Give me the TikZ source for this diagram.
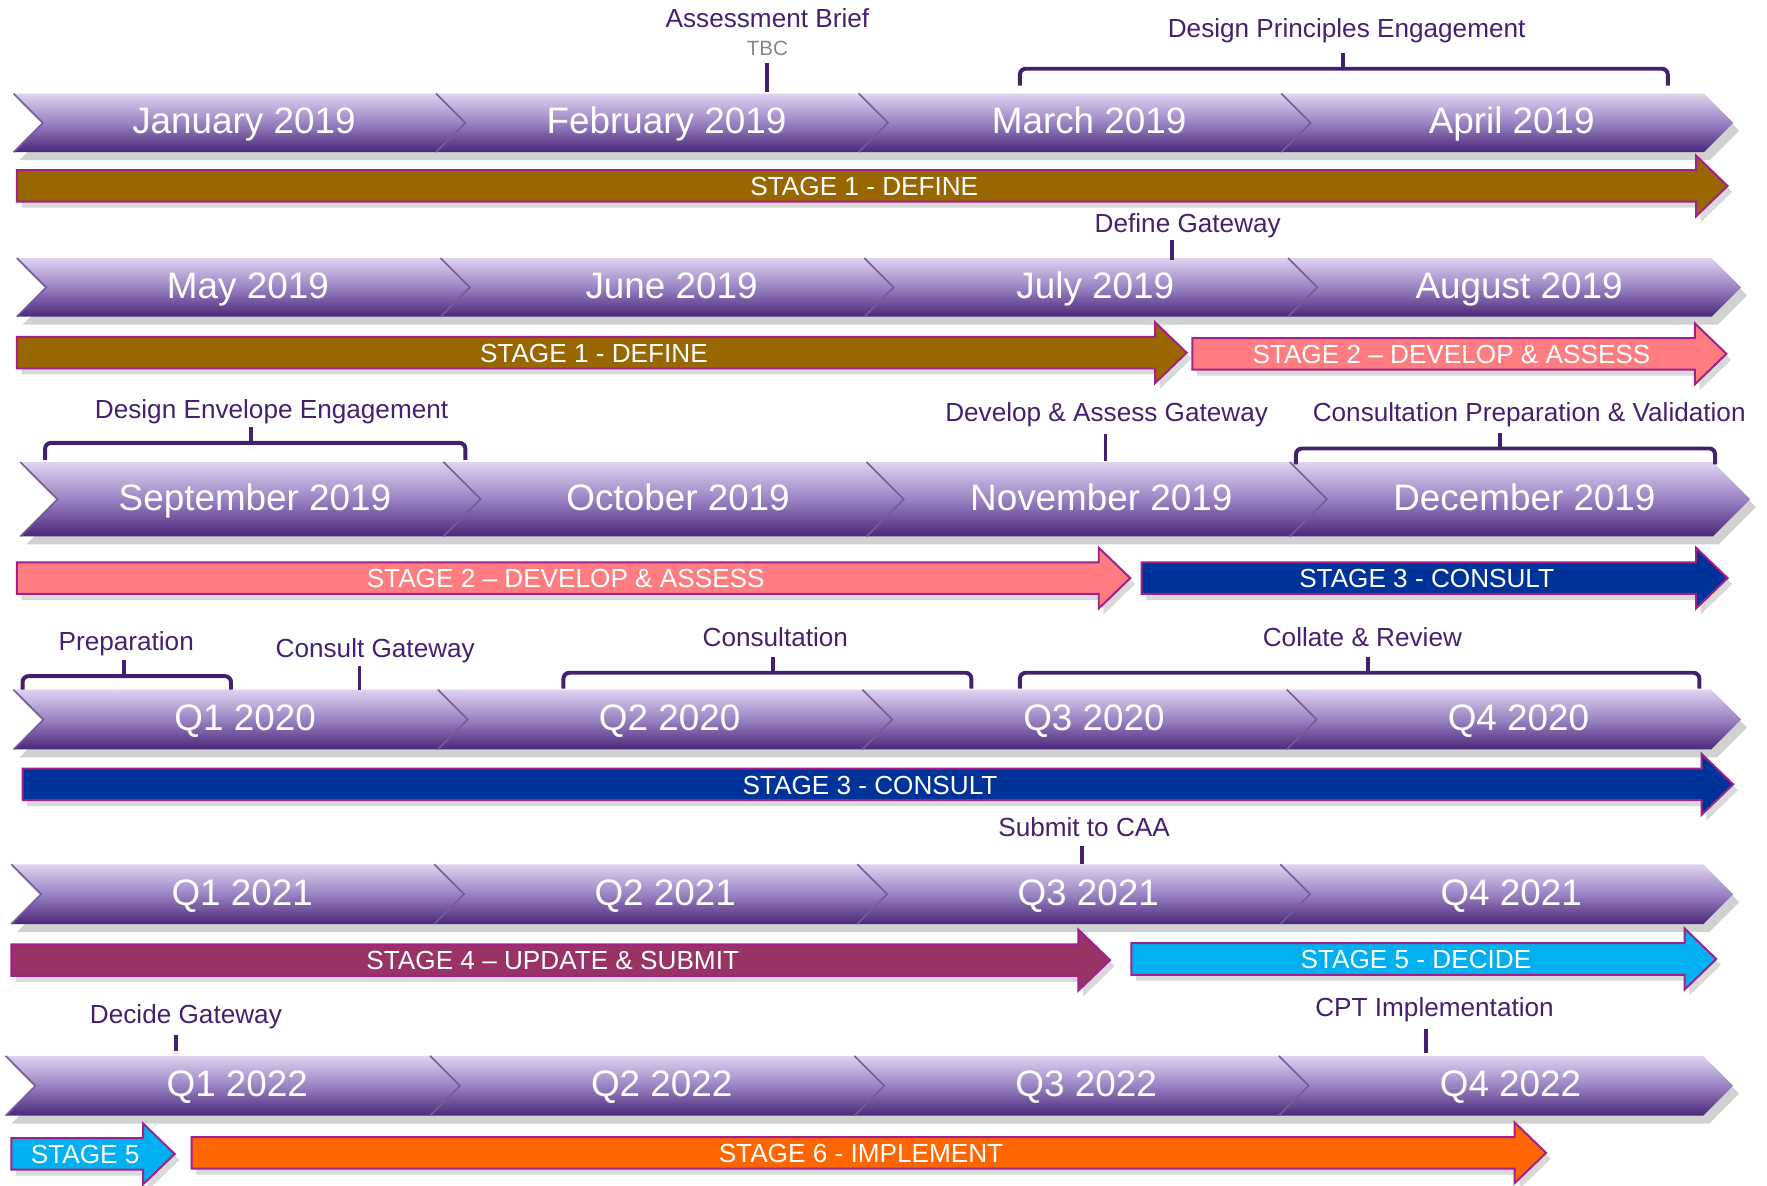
\documentclass[tikz,border=0pt]{standalone}
\usepackage{fontspec}
\setmainfont{Liberation Sans}
\usetikzlibrary{shadows}

\definecolor{chevtop}{HTML}{DED3F0}
\definecolor{chevmid}{HTML}{9A82C3}
\definecolor{chevbot}{HTML}{4A2878}
\definecolor{notecol}{HTML}{45206F}
\definecolor{tbcgray}{HTML}{7F8A90}
\definecolor{edgecol}{HTML}{A3208A}
\definecolor{stbrown}{HTML}{996600}
\definecolor{stpink}{HTML}{FF7C80}
\definecolor{stblue}{HTML}{003399}
\definecolor{stmaroon}{HTML}{993366}
\definecolor{stcyan}{HTML}{00B0F0}
\definecolor{storange}{HTML}{FF6600}

% one row of four month chevrons: name, y top, y bottom, x left, x tip, labels
\newcommand\chevrow[6]{%
  \pgfmathsetmacro\chd{(#3-#2)/2}%
  \pgfmathsetmacro\chm{(#2+#3)/2}%
  \pgfmathsetmacro\chw{(#5-\chd-#4)/4}%
  \fill[black, opacity=.18] ([xshift=1.5pt,yshift=-2pt]#4,#2) -- ([xshift=1.5pt,yshift=-2pt]#5-\chd,#2)
    -- ([xshift=1.5pt,yshift=-2pt]#5,\chm) -- ([xshift=1.5pt,yshift=-2pt]#5-\chd,#3)
    -- ([xshift=1.5pt,yshift=-2pt]#4,#3) -- ([xshift=1.5pt,yshift=-2pt]#4+\chd,\chm) -- cycle;
  \foreach \lab [count=\i from 0] in {#6} {
    \pgfmathsetmacro\xa{#4+\i*\chw}
    \pgfmathsetmacro\xb{\xa+\chw}
    \shade[chev] (\xa,#2) -- (\xb,#2) -- (\xb+\chd,\chm) -- (\xb,#3) -- (\xa,#3) -- (\xa+\chd,\chm) -- cycle;
    \draw[chevbot!70!chevtop, line width=.4pt] (\xa,#2) -- (\xa+\chd,\chm) -- (\xa,#3);
    \node[month] (#1-\i) at ({\xa/2+\xb/2+\chd/2+4},\chm) {\lab};
  }
}

% one stage arrow: name, x left, x tip, y middle, colour, text
\newcommand\stagebar[6]{%
  \draw[stagebox, fill=#5] (#2,#4-14) -- (#3-28,#4-14) -- (#3-28,#4-27) -- (#3,#4)
    -- (#3-28,#4+27) -- (#3-28,#4+14) -- (#2,#4+14) -- cycle;
  \node[stagetxt] (#1) at ({(#2+#3)/2-7},#4) {#6};
}

% bracket over a span: x left, x right, y top, y bottom, x of tick
\newcommand\spanbracket[5]{%
  \draw[tick, rounded corners=1.5pt] (#1,#4) -- (#1,#3) -- (#2,#3) -- (#2,#4);
  \draw[tick] (#5,#3) -- (#5,#3-14);
}

\begin{document}
\begin{tikzpicture}[x=0.01cm, y=-0.01cm,
    chev/.style={top color=chevtop, bottom color=chevbot, middle color=chevmid},
    month/.style={text=white, font=\fontsize{9.3pt}{11pt}\selectfont, inner sep=0pt,
      text height=7.2pt, text depth=1.6pt},
    stagebox/.style={draw=edgecol, line width=.5pt,
      drop shadow={opacity=.3, shadow xshift=1.2pt, shadow yshift=-1.5pt}},
    stagetxt/.style={text=white, font=\fontsize{6.6pt}{8pt}\selectfont, inner sep=0pt,
      text height=4.9pt, text depth=0pt},
    note/.style={text=notecol, font=\fontsize{6.6pt}{8pt}\selectfont, inner sep=0pt,
      text height=5pt, text depth=1.4pt},
    tick/.style={draw=notecol, line width=1pt}]
  \useasboundingbox (0,0) rectangle (1568,1052);

  % 2019 first third
  \chevrow{jan}{83}{135}{12}{1538}{January 2019, February 2019, March 2019, April 2019}
  \stagebar{def1}{15}{1533}{165}{stbrown}{STAGE 1 - DEFINE}
  \node[note] (brief) at (681,18) {Assessment Brief};
  \node[note, text=tbcgray, font=\fontsize{5.2pt}{6pt}\selectfont, text height=3.8pt, text depth=0pt] (tbc) at (681,43) {TBC};
  \draw[tick] (681,56) -- (681,82);
  \node[note] (dpe) at (1195,27) {Design Principles Engagement};
  \spanbracket{905}{1480}{61}{76}{1192}

  % 2019 second third
  \chevrow{may}{229}{281}{15}{1545}{May 2019, June 2019, July 2019, August 2019}
  \stagebar{def2}{15}{1053}{313}{stbrown}{STAGE 1 - DEFINE}
  \stagebar{dev1}{1058}{1532}{314}{stpink}{STAGE 2 – DEVELOP \& ASSESS}
  \node[note] (dgw) at (1054,200) {Define Gateway};
  \draw[tick] (1040,213) -- (1040,231);

  % 2019 last third
  \chevrow{sep}{410}{476}{18}{1553}{September 2019, October 2019, November 2019, December 2019}
  \stagebar{dev2}{15}{1003}{513}{stpink}{STAGE 2 – DEVELOP \& ASSESS}
  \stagebar{con1}{1013}{1533}{513}{stblue}{STAGE 3 - CONSULT}
  \node[note] (dee) at (241,365) {Design Envelope Engagement};
  \spanbracket{40}{413}{393}{408}{223}
  \node[note] (dagw) at (982,368) {Develop \& Assess Gateway};
  \draw[tick] (981,385) -- (981,409);
  \node[note] (cpv) at (1357,368) {Consultation Preparation \& Validation};
  \spanbracket{1150}{1522}{398}{412}{1331}

  % 2020
  \chevrow{q20}{612}{665}{12}{1545}{Q1 2020, Q2 2020, Q3 2020, Q4 2020}
  \stagebar{con2}{20}{1538}{696}{stblue}{STAGE 3 - CONSULT}
  \node[note] (prep) at (112,571) {Preparation};
  \spanbracket{20}{205}{600}{612}{110}
  \node[note] (cgw) at (333,577) {Consult Gateway};
  \draw[tick] (319,591) -- (319,612);
  \node[note] (cons) at (688,567) {Consultation};
  \spanbracket{500}{862}{597}{611}{686}
  \node[note] (crev) at (1209,567) {Collate \& Review};
  \spanbracket{905}{1508}{597}{611}{1214}

  % 2021
  \chevrow{q21}{767}{820}{10}{1538}{Q1 2021, Q2 2021, Q3 2021, Q4 2021}
  \stagebar{upd}{10}{985}{852}{stmaroon}{STAGE 4 – UPDATE \& SUBMIT}
  \stagebar{dec1}{1004}{1523}{851}{stcyan}{STAGE 5 - DECIDE}
  \node[note] (caa) at (962,736) {Submit to CAA};
  \draw[tick] (960,751) -- (960,767);

  % 2022
  \chevrow{q22}{937}{990}{5}{1538}{Q1 2022, Q2 2022, Q3 2022, Q4 2022}
  \stagebar{dec2}{10}{155}{1024}{stcyan}{STAGE 5}
  \stagebar{impl}{170}{1372}{1023}{storange}{STAGE 6 - IMPLEMENT}
  \node[note] (decgw) at (165,902) {Decide Gateway};
  \draw[tick] (156,918) -- (156,933);
  \node[note] (cpt) at (1273,896) {CPT Implementation};
  \draw[tick] (1265,913) -- (1265,934);
\end{tikzpicture}
\end{document}
